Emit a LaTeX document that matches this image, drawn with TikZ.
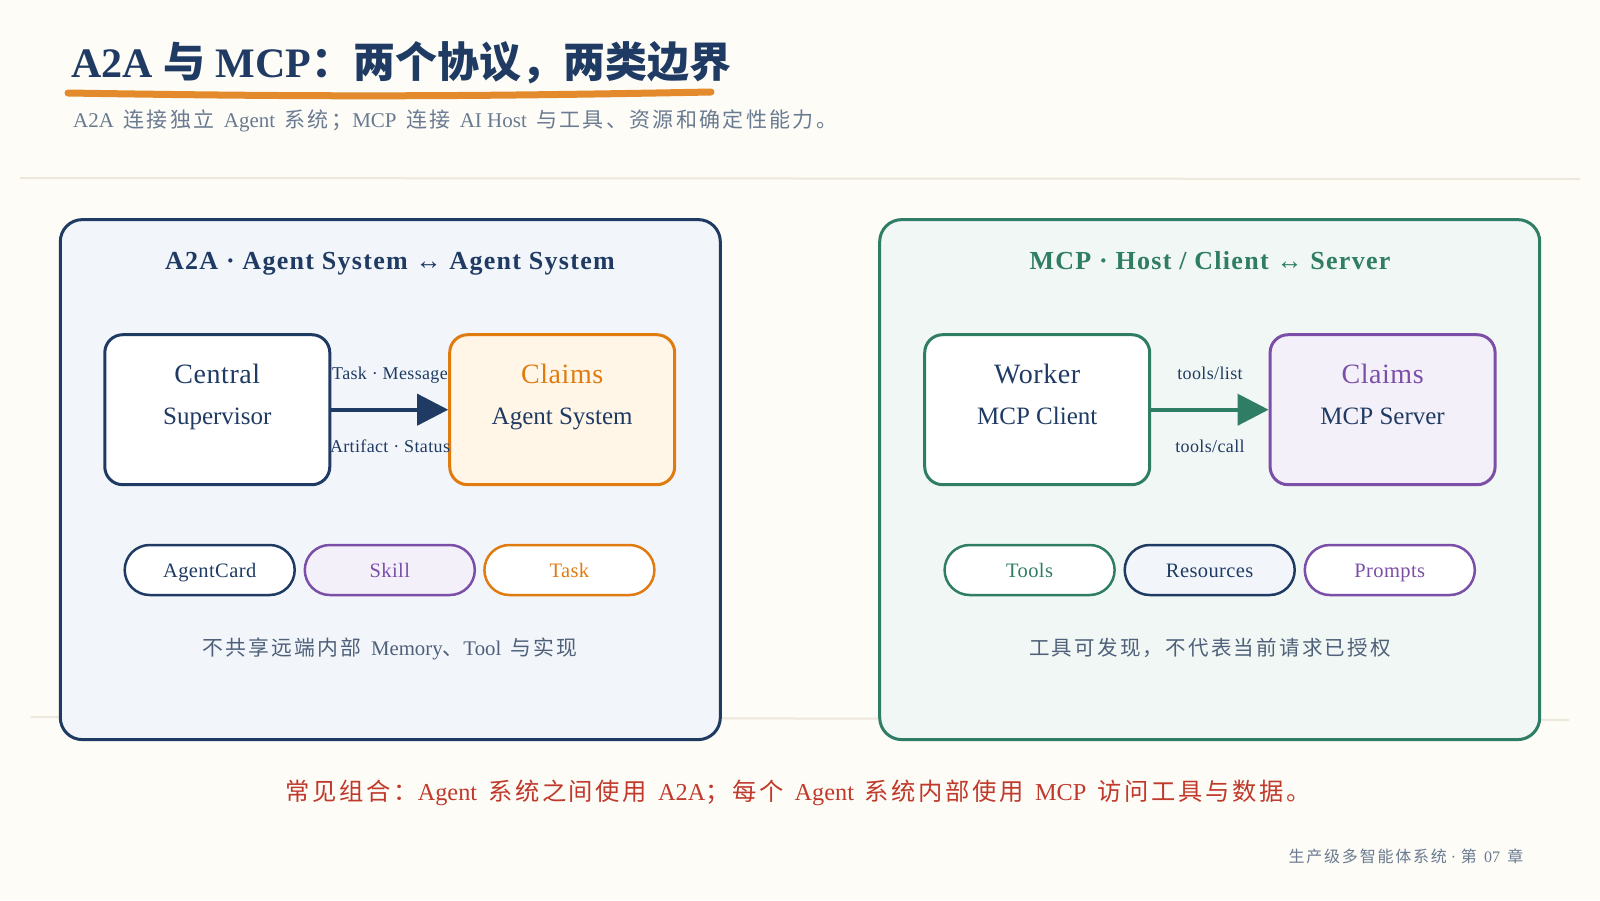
\documentclass[tikz,border=0pt]{standalone}
\usepackage{fontspec}
\setmainfont{Liberation Serif}
\newfontfamily\cjkt{Noto Sans CJK SC}
\newfontfamily\cjk[LetterSpace=11]{Noto Sans CJK SC}
\usetikzlibrary{arrows.meta}
\definecolor{bg}{HTML}{FDFCF7}
\definecolor{navy}{HTML}{1F3B63}
\definecolor{orng}{HTML}{E07B10}
\definecolor{uline}{HTML}{E38B2C}
\definecolor{grn}{HTML}{2E7D64}
\definecolor{purp}{HTML}{7B4FA8}
\definecolor{panA}{HTML}{F2F6FB}
\definecolor{panB}{HTML}{F1F7F4}
\definecolor{orfill}{HTML}{FFF6E7}
\definecolor{pufill}{HTML}{F4F0F9}
\definecolor{subgray}{HTML}{6A7A90}
\definecolor{capgray}{HTML}{4F607A}
\definecolor{redtxt}{HTML}{C0392B}
\definecolor{sepline}{HTML}{EEE8DC}
\newcommand\fsz[1]{\fontsize{#1}{#1}\selectfont}
\newcommand\gp{\hskip0.45em\relax}
\newcommand\trk[1]{\addfontfeatures{LetterSpace=#1}}
\begin{document}
\begin{tikzpicture}[x=1pt,y=-1pt,
  txt/.style={inner sep=0pt, anchor=base},
  panel/.style={draw, line width=3pt, rounded corners=22pt, minimum width=660pt, minimum height=520pt, inner sep=0pt},
  sysbox/.style={draw, line width=3pt, rounded corners=18pt, minimum width=225pt, minimum height=150pt, inner sep=0pt},
  pill/.style={draw, line width=2.5pt, rounded corners=25pt, minimum width=170pt, minimum height=50pt, inner sep=0pt},
  flow/.style={line width=4pt, -{Triangle[length=31pt,width=31pt]}},
  sep/.style={draw=sepline, line width=2pt},
  boxa/.style={txt, font=\fsz{28}\trk{2}},
  boxb/.style={txt, font=\fsz{25}},
  lab/.style={txt, font=\fsz{18}\trk{2}},
  pilltxt/.style={txt, font=\fsz{20.5}\trk{2}}
]
\fill[bg] (0,0) rectangle (1600,900);
\useasboundingbox (0,0) rectangle (1600,900);

% separators
\coordinate (s1a) at (20,178); \coordinate (s1b) at (1580,179);
\draw[sep] (s1a) -- (s1b);
\coordinate (s2a) at (31,717); \coordinate (s2b) at (1569,720);
\draw[sep] (s2a) -- (s2b);

% title
\node[txt, anchor=base west, text=navy] (title) at (71,77) {\fsz{42}\bfseries A2A {\cjkt 与} MCP{\cjkt ：两个协议，两类边界}};
\coordinate (ula) at (68,93); \coordinate (ulb) at (711,92);
\draw[uline, line width=7pt, line cap=round] (ula) to[bend right=1] (ulb);
\node[txt, anchor=base west, text=subgray] (sub) at (73,127.5) {\fsz{21}A2A\gp{\cjk 连接独立}\gp Agent\gp{\cjk 系统；}MCP\gp{\cjk 连接}\gp AI Host\gp{\cjk 与工具、资源和确定性能力。}};

% panels
\node[panel, draw=navy, fill=panA] (pa) at (390.3,479.6) {};
\node[panel, draw=grn, fill=panB] (pb) at (1209.7,479.6) {};

\node[txt, text=navy] (pat) at (390,269) {\fsz{26}\bfseries\trk{5}A2A · Agent System ↔ Agent System};
\node[txt, text=grn] (pbt) at (1210,269) {\fsz{26}\bfseries\trk{5}MCP · Host / Client ↔ Server};

% A2A boxes
\node[sysbox, draw=navy, fill=white] (cs) at (217.3,409.7) {};
\node[sysbox, draw=orng, fill=orfill] (cas) at (562.2,409.7) {};
\node[boxa, text=navy] (cs1) at (217.3,383) {Central};
\node[boxb, text=navy] (cs2) at (217.3,424) {Supervisor};
\node[boxa, text=orng] (cas1) at (562.2,383) {Claims};
\node[boxb, text=navy] (cas2) at (562.2,424) {Agent System};
\draw[flow, navy] (cs.east) -- (cas.west);
\node[lab, text=navy] (la1) at (390,379) {Task · Message};
\node[lab, text=navy] (la2) at (390,452.5) {Artifact · Status};

% MCP boxes
\node[sysbox, draw=grn, fill=white] (wk) at (1037.2,409.7) {};
\node[sysbox, draw=purp, fill=pufill] (ms) at (1382.6,409.7) {};
\node[boxa, text=navy] (wk1) at (1037.2,383) {Worker};
\node[boxb, text=navy] (wk2) at (1037.2,424) {MCP Client};
\node[boxa, text=purp] (ms1) at (1382.6,383) {Claims};
\node[boxb, text=navy] (ms2) at (1382.6,424) {MCP Server};
\draw[flow, grn] (wk.east) -- (ms.west);
\node[lab, text=navy] (lb1) at (1210,379) {tools/list};
\node[lab, text=navy] (lb2) at (1210,452.5) {tools/call};

% pills A2A
\node[pill, draw=navy, fill=white] (p1) at (209.7,570) {};
\node[pill, draw=purp, fill=pufill] (p2) at (389.8,570) {};
\node[pill, draw=orng, fill=white] (p3) at (569.4,570) {};
\node[pilltxt, text=navy] (p1t) at (209.7,577) {AgentCard};
\node[pilltxt, text=purp] (p2t) at (389.8,577) {Skill};
\node[pilltxt, text=orng] (p3t) at (569.4,577) {Task};

% pills MCP
\node[pill, draw=grn, fill=white] (q1) at (1029.6,570) {};
\node[pill, draw=navy, fill=panA] (q2) at (1209.7,570) {};
\node[pill, draw=purp, fill=white] (q3) at (1389.8,570) {};
\node[pilltxt, text=grn] (q1t) at (1029.6,577) {Tools};
\node[pilltxt, text=navy] (q2t) at (1209.7,577) {Resources};
\node[pilltxt, text=purp] (q3t) at (1389.8,577) {Prompts};

% captions
\node[txt, text=capgray] (ca) at (390,655) {\fsz{20.8}{\cjk 不共享远端内部}\gp Memory{\cjk 、}Tool\gp{\cjk 与实现}};
\node[txt, text=capgray] (cb) at (1210,655) {\fsz{20.5}{\cjk 工具可发现，不代表当前请求已授权}};

% bottom
\node[txt, text=redtxt] (bot) at (798,800) {\fsz{24.3}{\cjk 常见组合：}Agent\gp{\cjk 系统之间使用}\gp A2A{\cjk ；每个}\gp Agent\gp{\cjk 系统内部使用}\gp MCP\gp{\cjk 访问工具与数据。}};
\node[txt, anchor=base east, text=subgray] (foot) at (1523.5,862) {\fsz{16}{\cjk 生产级多智能体系统}\hskip0.25em·\hskip0.3em{\cjk 第}\gp 07\gp{\cjk 章}};
\end{tikzpicture}
\end{document}
